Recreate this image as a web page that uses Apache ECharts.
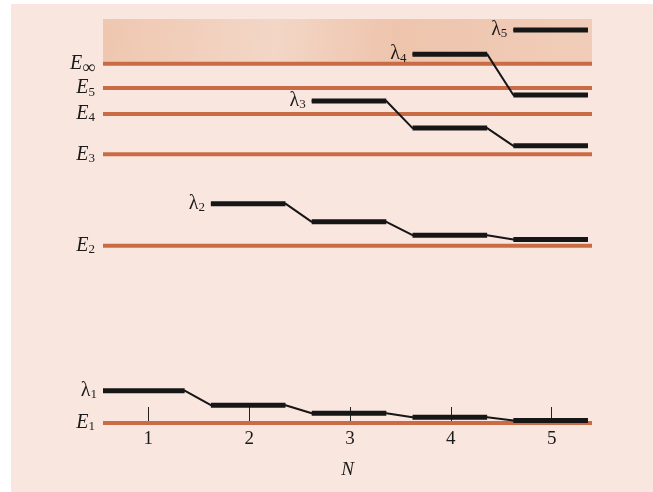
<!DOCTYPE html>
<html>
<head>
<meta charset="utf-8">
<script src="https://cdn.jsdelivr.net/npm/echarts@6/dist/echarts.min.js"></script>
<style>
  html, body { margin: 0; padding: 0; background: #ffffff; }
  #frame { position: absolute; left: 11px; top: 4px; right: 0; bottom: 0; background: #f9e7df; }
  #chart { position: absolute; left: 0; top: 0; width: 653px; height: 492px; }
</style>
</head>
<body>
<div id="frame"></div>
<div id="chart"></div>
<script>
// Energy levels of the separated atoms (arbitrary energy units, E1 = 0)
const levelSubscripts = ['1', '2', '3', '4', '5', '∞'];
const levelEnergies = [0, 43.9, 66.5, 76.5, 82.9, 88.9];
const continuumTop = 100;

// Number of atoms N
const atomCounts = [1, 2, 3, 4, 5];

// Band energies λ_k as a function of N (null = band not yet present)
const lambda1 = [8.0, 4.4, 2.4, 1.4, 0.6];
const lambda2 = [null, 54.3, 49.8, 46.5, 45.4];
const lambda3 = [null, null, 79.7, 73.0, 68.6];
const lambda4 = [null, null, null, 91.3, 81.2];
const lambda5 = [null, null, null, null, 97.3];
const bandNames = ['1', '2', '3', '4', '5'];

const xMin = 0.55, xMax = 5.4;
const segLeft = 0.38, segRight = 0.36;

const levelColor = '#c96b44';
const ink = '#161616';
const textColor = '#1a1a1a';
const serif = '"Liberation Serif", "DejaVu Serif", serif';

const series = [];

// Continuum above E∞
series.push({
  type: 'line',
  data: [],
  silent: true,
  z: 1,
  markArea: {
    silent: true,
    itemStyle: {
      color: {
        type: 'linear', x: 0, y: 0, x2: 1, y2: 0.3,
        colorStops: [
          { offset: 0, color: '#efc7b0' },
          { offset: 0.35, color: '#f3d6c6' },
          { offset: 0.6, color: '#eec4ac' },
          { offset: 1, color: '#f1cdb9' }
        ]
      }
    },
    data: [[{ xAxis: xMin, yAxis: levelEnergies[5] }, { xAxis: xMax, yAxis: continuumTop }]]
  }
});

// Discrete levels of the isolated atom
levelEnergies.forEach(function (e) {
  series.push({
    type: 'line',
    data: [[xMin, e], [xMax, e]],
    symbol: 'none',
    silent: true,
    z: 2,
    lineStyle: { color: levelColor, width: 4, cap: 'butt' }
  });
});

// Bands: thin connectors through all points, thick plateaus at each N
const bandStarts = [];
[lambda1, lambda2, lambda3, lambda4, lambda5].forEach(function (vals, k) {
  const path = [];
  vals.forEach(function (v, i) {
    if (v === null) return;
    const n = atomCounts[i];
    const a = n === 1 ? xMin : Math.max(xMin, n - segLeft);
    const b = Math.min(xMax, n + segRight);
    path.push([a, v], [b, v]);
    series.push({
      type: 'line',
      data: [[a, v], [b, v]],
      symbol: 'none',
      silent: true,
      z: 4,
      lineStyle: { color: ink, width: 5, cap: 'butt' }
    });
  });
  bandStarts.push({ value: path[0], name: bandNames[k] });
  series.push({
    type: 'line',
    data: path,
    symbol: 'none',
    silent: true,
    z: 3,
    lineStyle: { color: ink, width: 2 }
  });
});

// λ_k labels at the start of each band
series.push({
  type: 'scatter',
  data: bandStarts,
  symbolSize: 0,
  silent: true,
  z: 5,
  itemStyle: { opacity: 1 },
  label: {
    show: true,
    position: 'left',
    distance: 6,
    opacity: 1,
    formatter: function (p) { return '{l|λ}{s|' + p.name + '}'; },
    rich: {
      l: { fontFamily: serif, fontSize: 20, color: textColor },
      s: { fontFamily: serif, fontSize: 13, color: textColor, padding: [8, 0, 0, 0] }
    }
  }
});

const chart = echarts.init(document.getElementById('chart'), null, { renderer: 'canvas' });
chart.setOption({
  backgroundColor: 'transparent',
  animation: false,
  grid: { left: 103, right: 61, top: 19, bottom: 69 },
  xAxis: {
    type: 'value',
    min: xMin,
    max: xMax,
    name: 'N',
    nameLocation: 'middle',
    nameGap: 37,
    nameTextStyle: { fontFamily: serif, fontStyle: 'italic', fontSize: 19, color: textColor },
    axisLine: { show: false },
    splitLine: { show: false },
    axisTick: {
      show: true, inside: true, length: 16,
      customValues: atomCounts,
      lineStyle: { color: '#222', width: 1 }
    },
    axisLabel: {
      customValues: atomCounts,
      margin: 7,
      fontFamily: serif, fontSize: 19, color: textColor
    }
  },
  yAxis: {
    type: 'value',
    min: 0,
    max: continuumTop,
    axisLine: { show: false },
    axisTick: { show: false },
    splitLine: { show: false },
    axisLabel: {
      customValues: levelEnergies,
      margin: 8,
      formatter: function (v) {
        const i = levelEnergies.indexOf(v);
        const sub = levelSubscripts[i];
        return '{e|E}{' + (sub === '∞' ? 'inf' : 's') + '|' + sub + '}';
      },
      rich: {
        e: { fontFamily: serif, fontStyle: 'italic', fontSize: 20, color: textColor },
        s: { fontFamily: serif, fontSize: 13, color: textColor, padding: [8, 0, 0, 0] },
        inf: { fontFamily: serif, fontSize: 18, color: textColor, padding: [8, 0, 0, 0] }
      }
    }
  },
  series: series
});
</script>
</body>
</html>
